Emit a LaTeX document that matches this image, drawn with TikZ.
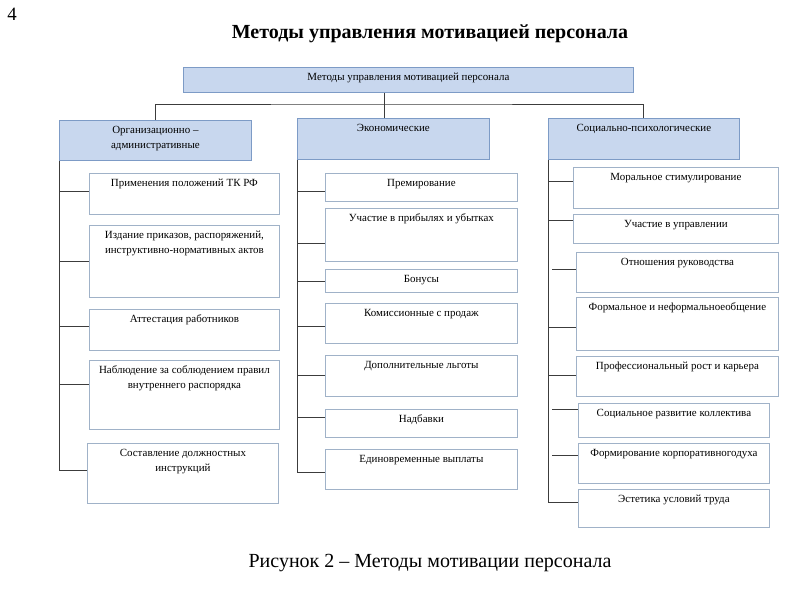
\documentclass[tikz,border=0pt]{standalone}
\usepackage{fontspec}
\setmainfont{Liberation Serif}
\newdimen\pxu \pxu=0.85pt
% box text: width, height (px), text on top
\newcommand{\boxtext}[3]{\parbox[c][#2\pxu][t]{#1\pxu}{\centering\rule{0pt}{11.5pt}#3}}
\definecolor{headfill}{RGB}{200,215,238}
\definecolor{headline}{RGB}{125,155,198}
\definecolor{itemline}{RGB}{160,178,200}
\definecolor{linkline}{RGB}{60,60,60}
\begin{document}
\begin{tikzpicture}[x=0.85pt,y=-0.85pt]
        \tikzstyle{head}=[draw=headline,fill=headfill,line width=0.7pt,anchor=north west,inner sep=0pt,font=\fontsize{9.3}{12.5}\selectfont]
        \tikzstyle{item}=[draw=itemline,fill=white,line width=0.7pt,anchor=north west,inner sep=0pt,font=\fontsize{9.3}{12.5}\selectfont]
        \tikzstyle{edge}=[draw=linkline,line width=0.8pt]
        \useasboundingbox (0,0) rectangle (800,600);
        % titles
        \node [font=\fontsize{16}{18}\selectfont] (num) at (12,14) {4};
        \node [font=\bfseries\fontsize{17}{20}\selectfont] (title) at (430,33.5) {Методы управления мотивацией персонала};
        \node [font=\fontsize{17}{20}\selectfont] (caption) at (430,563) {Рисунок 2 – Методы мотивации персонала};
        % top
        \node [head] (mt) at (183,67) {\boxtext{450}{25}{Методы управления мотивацией персонала}};
        \node [head] (lh) at (59,120) {\boxtext{192}{40}{Организационно –\\административные}};
        \node [head] (mh) at (297,118) {\boxtext{192}{41}{Экономические}};
        \node [head] (rh) at (548,118) {\boxtext{191}{41}{Социально-психологические}};
        \coordinate (jn) at (384,104);
        \path[edge] (jn |- mt.south) -- (jn |- mh.north);
        \path[edge] (lh.north) |- (jn) -| (rh.north);
        % left column
        \node [item] (l1) at (89,173) {\boxtext{190}{41}{Применения положений ТК РФ}};
        \node [item] (l2) at (89,225) {\boxtext{190}{72}{Издание приказов, распоряжений,\\инструктивно-нормативных актов}};
        \node [item] (l3) at (89,309) {\boxtext{190}{41}{Аттестация работников}};
        \node [item] (l4) at (89,360) {\boxtext{190}{69}{Наблюдение за соблюдением правил\\внутреннего распорядка}};
        \node [item] (l5) at (87,443) {\boxtext{191}{60}{Составление должностных\\инструкций}};
        \path[edge] (lh.south west) |- (l5.west |- 0,470);
        \path[edge] (lh.south west |- 0,191) -- (l1.west |- 0,191);
        \path[edge] (lh.south west |- 0,261) -- (l2.west |- 0,261);
        \path[edge] (lh.south west |- 0,326) -- (l3.west |- 0,326);
        \path[edge] (lh.south west |- 0,384) -- (l4.west |- 0,384);
        % middle column
        \node [item] (m1) at (325,173) {\boxtext{192}{28}{Премирование}};
        \node [item] (m2) at (325,208) {\boxtext{192}{53}{Участие в прибылях и убытках}};
        \node [item] (m3) at (325,269) {\boxtext{192}{23}{Бонусы}};
        \node [item] (m4) at (325,303) {\boxtext{192}{40}{Комиссионные с продаж}};
        \node [item] (m5) at (325,355) {\boxtext{192}{41}{Дополнительные льготы}};
        \node [item] (m6) at (325,409) {\boxtext{192}{28}{Надбавки}};
        \node [item] (m7) at (325,449) {\boxtext{192}{40}{Единовременные выплаты}};
        \path[edge] (mh.south west) |- (m7.west |- 0,472);
        \path[edge] (mh.south west |- 0,191) -- (m1.west |- 0,191);
        \path[edge] (mh.south west |- 0,243) -- (m2.west |- 0,243);
        \path[edge] (mh.south west |- 0,281) -- (m3.west |- 0,281);
        \path[edge] (mh.south west |- 0,326) -- (m4.west |- 0,326);
        \path[edge] (mh.south west |- 0,375) -- (m5.west |- 0,375);
        \path[edge] (mh.south west |- 0,417) -- (m6.west |- 0,417);
        % right column
        \node [item] (r1) at (573,167) {\boxtext{205}{41}{Моральное стимулирование}};
        \node [item] (r2) at (573,214) {\boxtext{205}{29}{Участие в управлении}};
        \node [item] (r3) at (576,252) {\boxtext{202}{40}{Отношения руководства}};
        \node [item] (r4) at (576,297) {\boxtext{202}{53}{Формальное и неформальноеобщение}};
        \node [item] (r5) at (576,356) {\boxtext{202}{40}{Профессиональный рост и карьера}};
        \node [item] (r6) at (578,403) {\boxtext{191}{34}{Социальное развитие коллектива}};
        \node [item] (r7) at (578,443) {\boxtext{191}{40}{Формирование корпоративногодуха}};
        \node [item] (r8) at (578,489) {\boxtext{191}{38}{Эстетика условий труда}};
        \path[edge] (rh.south west) |- (r8.west |- 0,502);
        \path[edge] (rh.south west |- 0,181) -- (r1.west |- 0,181);
        \path[edge] (rh.south west |- 0,220) -- (r2.west |- 0,220);
        \path[edge] (rh.south west |- 0,269) ++(4,0) -- (r3.west |- 0,269);
        \path[edge] (rh.south west |- 0,327) -- (r4.west |- 0,327);
        \path[edge] (rh.south west |- 0,375) -- (r5.west |- 0,375);
        \path[edge] (rh.south west |- 0,409) ++(4,0) -- (r6.west |- 0,409);
        \path[edge] (rh.south west |- 0,455) ++(4,0) -- (r7.west |- 0,455);
\end{tikzpicture}
\end{document}
